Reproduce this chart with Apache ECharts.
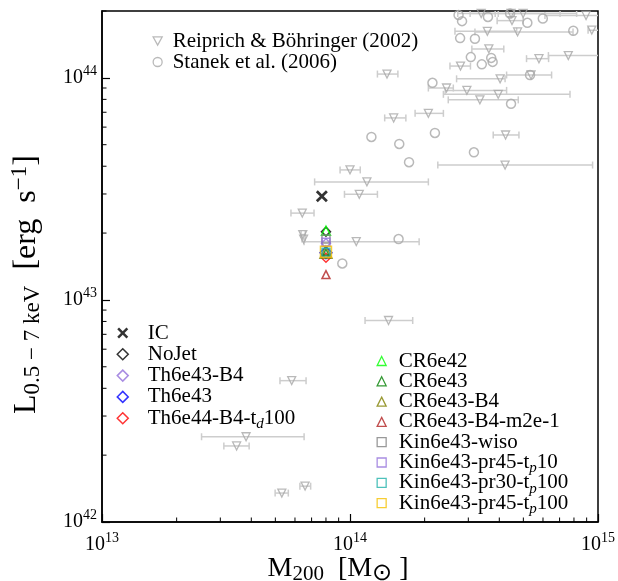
<!DOCTYPE html>
<html>
<head>
<meta charset="utf-8">
<script src="https://cdn.jsdelivr.net/npm/echarts@6/dist/echarts.min.js"></script>
<style>
  html, body { margin: 0; padding: 0; background: #fff; }
  #chart { width: 618px; height: 581px; }
</style>
</head>
<body>
<div id="chart"></div>
<script>
// Reiprich & Böhringer (2002): [M200, L, M200 low, M200 high]
const reiprich = [
  [6.59e13, 1.45e42, 6.28e13, 6.94e13],
  [5.31e13, 1.35e42, 4.99e13, 5.64e13],
  [3.81e13, 2.42e42, 2.52e13, 6.53e13],
  [3.49e13, 2.20e42, 3.10e13, 3.92e13],
  [5.82e13, 4.33e42, 5.22e13, 6.65e13],
  [1.43e14, 8.08e42, 1.15e14, 1.79e14],
  [6.45e13, 1.97e43, 6.35e13, 6.60e13],
  [6.50e13, 1.88e43, 6.40e13, 6.60e13],
  [1.06e14, 1.83e43, 6.53e13, 1.90e14],
  [6.42e13, 2.46e43, 5.78e13, 7.16e13],
  [1.09e14, 2.99e43, 9.50e13, 1.29e14],
  [1.17e14, 3.40e43, 7.20e13, 2.07e14],
  [1.00e14, 3.85e43, 9.12e13, 1.10e14],
  [4.22e14, 4.05e43, 2.26e14, 9.51e14],
  [4.24e14, 5.53e43, 3.78e14, 4.80e14],
  [1.50e14, 6.60e43, 1.38e14, 1.68e14],
  [2.07e14, 6.92e43, 1.83e14, 2.38e14],
  [3.34e14, 7.96e43, 2.49e14, 4.77e14],
  [3.96e14, 8.43e43, 2.38e14, 7.71e14],
  [2.96e14, 8.78e43, 2.42e14, 4.28e14],
  [2.45e14, 9.00e43, 2.07e14, 2.61e14],
  [4.03e14, 9.90e43, 2.69e14, 4.22e14],
  [5.37e14, 1.03e44, 4.28e14, 6.50e14],
  [1.41e14, 1.04e44, 1.29e14, 1.56e14],
  [2.79e14, 1.13e44, 2.53e14, 3.06e14],
  [5.78e14, 1.22e44, 5.15e14, 6.32e14],
  [7.59e14, 1.26e44, 6.31e14, 1.23e15],
  [3.63e14, 1.35e44, 3.10e14, 4.17e14],
  [3.58e14, 1.62e44, 2.65e14, 4.70e14],
  [4.74e14, 1.61e44, 3.19e14, 7.93e14],
  [9.44e14, 1.64e44, 9.12e14, 1.23e15],
  [4.50e14, 1.81e44, 3.92e14, 4.99e14],
  [3.38e14, 1.95e44, 3.05e14, 3.85e14],
  [4.99e14, 1.95e44, 3.96e14, 7.03e14],
  [4.46e14, 1.95e44, 2.72e14, 8.20e14],
  [8.95e14, 1.91e44, 6.11e14, 1.23e15]
];

// Stanek et al. (2006): [M200, L]
const stanek = [
  [9.31e13, 1.46e43], [1.57e14, 1.88e43], [1.22e14, 5.42e43], [1.58e14, 5.04e43],
  [2.20e14, 5.65e43], [1.73e14, 4.17e43], [3.16e14, 4.62e43], [4.46e14, 7.64e43],
  [2.15e14, 9.50e43], [5.32e14, 1.03e44], [3.40e14, 1.15e44], [3.76e14, 1.18e44],
  [3.71e14, 1.23e44], [3.07e14, 1.24e44], [2.78e14, 1.51e44], [3.19e14, 1.50e44],
  [7.95e14, 1.63e44], [2.74e14, 1.92e44], [2.83e14, 1.80e44], [3.60e14, 1.88e44],
  [4.42e14, 1.95e44], [5.19e14, 1.77e44], [5.99e14, 1.85e44]
];

// simulations
const icPoint = [7.7e13, 2.93e43];
const simMass = 8.0e13;
const simNames = [
  'NoJet', 'Th6e43-B4', 'Th6e43', 'Th6e44-B4-t_d100',
  'CR6e42', 'CR6e43', 'CR6e43-B4', 'CR6e43-B4-m2e-1',
  'Kin6e43-wiso', 'Kin6e43-pr45-t_p10', 'Kin6e43-pr30-t_p100', 'Kin6e43-pr45-t_p100'
];
const simLum = [
  2.03e43, 1.80e43, 1.63e43, 1.55e43,
  2.05e43, 1.64e43, 1.64e43, 1.30e43,
  1.88e43, 1.82e43, 1.64e43, 1.65e43
];

// minor tick positions
const minorX = [2e13, 3e13, 4e13, 5e13, 6e13, 7e13, 8e13, 9e13,
                2e14, 3e14, 4e14, 5e14, 6e14, 7e14, 8e14, 9e14];
const minorY = [2e42, 3e42, 4e42, 5e42, 6e42, 7e42, 8e42, 9e42,
                2e43, 3e43, 4e43, 5e43, 6e43, 7e43, 8e43, 9e43, 2e44];

const X_MIN = 1e13, X_MAX = 1e15, Y_MIN = 1e42, Y_MAX = 2e44;
const FONT = 'Liberation Serif';

// marker style for each simulation (same order as simNames)
const simStyle = [
  { symbol: 'diamond', size: 9, color: '#000000' },
  { symbol: 'diamond', size: 9, color: '#9370db' },
  { symbol: 'diamond', size: 12, color: '#0000ff' },
  { symbol: 'diamond', size: 9, color: '#ff0000' },
  { symbol: 'triangle', size: 9, color: '#00ff00' },
  { symbol: 'triangle', size: 6, color: '#008000' },
  { symbol: 'triangle', size: 12, color: '#808000' },
  { symbol: 'triangle', size: 8, color: '#b22222' },
  { symbol: 'rect', size: 8, color: '#808080' },
  { symbol: 'rect', size: 8, color: '#9370db' },
  { symbol: 'rect', size: 8, color: '#20b2aa' },
  { symbol: 'rect', size: 11, color: '#f5c000' }
];

const X_PATH = 'path://M0,1.6L1.6,0L5,3.4L8.4,0L10,1.6L6.6,5L10,8.4L8.4,10L5,6.6L1.6,10L0,8.4L3.4,5Z';
const DOWN_TRI = 'path://M0,0L10,0L5,9Z';
const GRAY_EDGE = '#a8a8a8';
const GRAY_BAR = '#cdcdcd';

const chart = echarts.init(document.getElementById('chart'));

// log axis label as 10^n
function powLabel(v) {
  const e = Math.log10(v);
  const r = Math.round(e);
  if (Math.abs(e - r) > 1e-6) return '';
  return '{b|10}{s|' + r + '}';
}
const labelRich = {
  b: { fontFamily: FONT, fontSize: 20, color: '#000', lineHeight: 24 },
  s: { fontFamily: FONT, fontSize: 14, color: '#000', lineHeight: 24, padding: [0, 0, 14, 0] }
};

// legend names with subscripts (t_d -> t with subscript d)
// every token gets the same padded height so all rows are equal
const ROW = 27;
function legendText(name) {
  return '{p|' + name.replace(/_(\w)/, '}{sub|$1}{t|') + '}';
}
function legendRich(pad) {
  return {
    p: { fontFamily: FONT, fontSize: 21, color: '#000', lineHeight: ROW, padding: [3, 0, 3, pad] },
    t: { fontFamily: FONT, fontSize: 21, color: '#000', lineHeight: ROW, padding: [3, 0, 3, 0] },
    sub: { fontFamily: FONT, fontSize: 15, fontStyle: 'italic', color: '#000', lineHeight: ROW, padding: [12, 0, 0, 0] }
  };
}

function clipRect(params) {
  const c = params.coordSys;
  return { type: 'rect', shape: { x: c.x, y: c.y, width: c.width, height: c.height } };
}

const series = [];

// error bars for Reiprich & Böhringer
series.push({
  type: 'custom',
  name: 'errbars',
  silent: true,
  data: reiprich,
  encode: { x: 0, y: 1 },
  z: 1,
  renderItem: (params, api) => {
    const y = api.value(1);
    const a = api.coord([api.value(2), y]);
    const b = api.coord([api.value(3), y]);
    const st = { stroke: GRAY_BAR, lineWidth: 1.5 };
    const cap = 3.5;
    return {
      type: 'group',
      clipPath: clipRect(params),
      children: [
        { type: 'line', shape: { x1: a[0], y1: a[1], x2: b[0], y2: b[1] }, style: st },
        { type: 'line', shape: { x1: a[0], y1: a[1] - cap, x2: a[0], y2: a[1] + cap }, style: st },
        { type: 'line', shape: { x1: b[0], y1: b[1] - cap, x2: b[0], y2: b[1] + cap }, style: st }
      ]
    };
  }
});

series.push({
  type: 'scatter',
  name: 'Reiprich & Böhringer (2002)',
  data: reiprich.map(d => [d[0], d[1]]),
  symbol: DOWN_TRI,
  symbolSize: 8,
  z: 2,
  itemStyle: { color: 'rgba(0,0,0,0)', borderColor: GRAY_EDGE, borderWidth: 1.3 }
});

series.push({
  type: 'scatter',
  name: 'Stanek et al. (2006)',
  data: stanek,
  symbol: 'circle',
  symbolSize: 9,
  z: 2,
  itemStyle: { color: 'rgba(0,0,0,0)', borderColor: GRAY_EDGE, borderWidth: 1.5 }
});

series.push({
  type: 'scatter',
  name: 'IC',
  data: [icPoint],
  symbol: X_PATH,
  symbolSize: 12,
  z: 3,
  itemStyle: { color: '#000' }
});

simNames.forEach((name, i) => {
  const s = simStyle[i];
  series.push({
    type: 'scatter',
    name: name,
    data: [[simMass, simLum[i]]],
    symbol: s.symbol,
    symbolSize: s.size,
    z: 3,
    itemStyle: { color: 'rgba(0,0,0,0)', borderColor: s.color, borderWidth: 1.5 }
  });
});

// minor ticks (matplotlib style, inside)
series.push({
  type: 'custom',
  name: 'minorX',
  silent: true,
  data: minorX.map(v => [v, Y_MIN]),
  z: 5,
  renderItem: (params, api) => {
    const p = api.coord([api.value(0), api.value(1)]);
    return { type: 'line', shape: { x1: p[0], y1: p[1], x2: p[0], y2: p[1] - 4.5 }, style: { stroke: '#000', lineWidth: 1 } };
  }
});
series.push({
  type: 'custom',
  name: 'minorY',
  silent: true,
  data: minorY.map(v => [X_MIN, v]),
  z: 5,
  renderItem: (params, api) => {
    const p = api.coord([api.value(0), api.value(1)]);
    return { type: 'line', shape: { x1: p[0], y1: p[1], x2: p[0] + 4.5, y2: p[1] }, style: { stroke: '#000', lineWidth: 1 } };
  }
});

const leftNames = ['IC'].concat(simNames.slice(0, 4));
const rightNames = simNames.slice(4);

const option = {
  animation: false,
  backgroundColor: '#fff',
  grid: {
    left: 102, right: 20, top: 11, bottom: 59,
    containLabel: false,
    outerBoundsMode: 'none',
    show: true, borderColor: '#000', borderWidth: 1.5
  },
  xAxis: {
    type: 'log',
    logBase: 10,
    min: X_MIN,
    max: X_MAX,
    splitLine: { show: false },
    axisLine: { lineStyle: { color: '#000', width: 1.5 } },
    axisTick: { inside: true, length: 8, lineStyle: { color: '#000', width: 1.2 } },
    axisLabel: { formatter: powLabel, rich: labelRich, margin: 11 },
    name: '{t|M}{sub|200}{t|  [M}{big|⊙}{end| ]}',
    nameLocation: 'middle',
    nameGap: 32,
    nameMoveOverlap: false,
    nameTextStyle: {
      rich: {
        t: { fontFamily: FONT, fontSize: 28, color: '#000', lineHeight: 30 },
        sub: { fontFamily: FONT, fontSize: 21, color: '#000', lineHeight: 30, padding: [11, 0, 0, 0] },
        big: { fontFamily: FONT, fontSize: 24, color: '#000', lineHeight: 30, padding: [9, 0, 0, 0] },
        end: { fontFamily: FONT, fontSize: 28, color: '#000', lineHeight: 30, padding: [0, 24, 0, 0] }
      }
    }
  },
  yAxis: {
    type: 'log',
    logBase: 10,
    min: Y_MIN,
    max: Y_MAX,
    splitLine: { show: false },
    axisLine: { lineStyle: { color: '#000', width: 1.5 } },
    axisTick: { inside: true, length: 8, lineStyle: { color: '#000', width: 1.2 } },
    axisLabel: { formatter: powLabel, rich: labelRich, margin: 5, showMaxLabel: false },
    name: '{t|L}{sub|0.5 − 7 keV}{t|  [erg  s}{sup|−1}{end|]}',
    nameLocation: 'middle',
    nameRotate: 90,
    nameGap: 58,
    nameMoveOverlap: false,
    nameTextStyle: {
      rich: {
        t: { fontFamily: FONT, fontSize: 32, color: '#000', lineHeight: 34 },
        sub: { fontFamily: FONT, fontSize: 23, color: '#000', lineHeight: 34, padding: [12, 0, 0, 0] },
        sup: { fontFamily: FONT, fontSize: 23, color: '#000', lineHeight: 34, padding: [0, 0, 15, 0] },
        end: { fontFamily: FONT, fontSize: 32, color: '#000', lineHeight: 34, padding: [0, 36, 0, 0] }
      }
    }
  },
  legend: [
    {
      data: ['Reiprich & Böhringer (2002)', 'Stanek et al. (2006)'],
      orient: 'vertical', left: 152.5, top: 41 - ROW / 2, padding: 0,
      itemWidth: 9, itemHeight: 9, itemGap: 21 - ROW,
      itemStyle: { borderWidth: 1.3 },
      selectedMode: false,
      formatter: legendText,
      textStyle: { rich: legendRich(5.5) }
    },
    {
      data: leftNames,
      orient: 'vertical', left: 116.5, top: 333 - ROW / 2, padding: 0,
      itemWidth: 11, itemHeight: 11, itemGap: 21.3 - ROW,
      itemStyle: { borderWidth: 1.5 },
      selectedMode: false,
      formatter: legendText,
      textStyle: { rich: legendRich(14.5) }
    },
    {
      data: rightNames,
      orient: 'vertical', left: 376.5, top: 361 - ROW / 2, padding: 0,
      itemWidth: 9, itemHeight: 9, itemGap: 20.3 - ROW,
      itemStyle: { borderWidth: 1.3 },
      selectedMode: false,
      formatter: legendText,
      textStyle: { rich: legendRich(7.5) }
    }
  ],
  series: series
};

chart.setOption(option);
</script>
</body>
</html>
